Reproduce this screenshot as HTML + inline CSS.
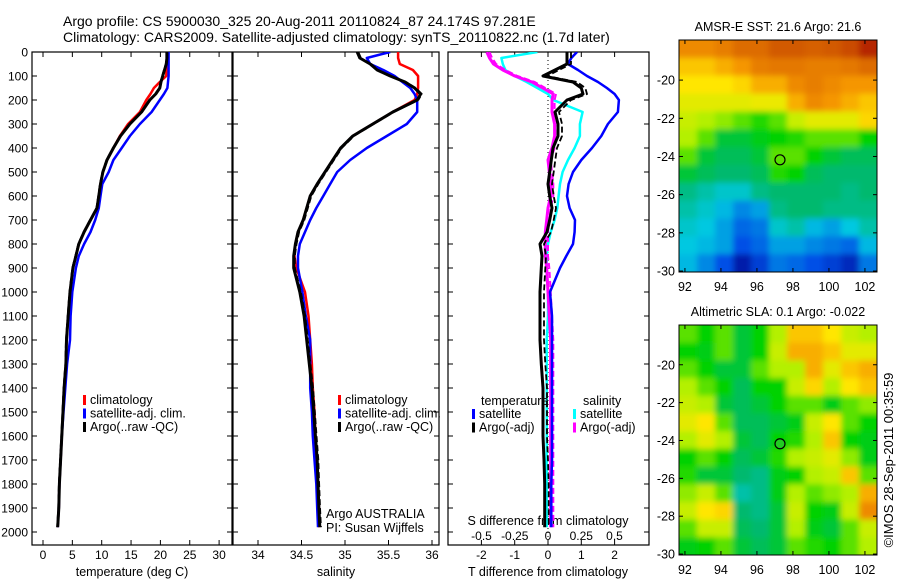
<!DOCTYPE html>
<html><head><meta charset="utf-8"><style>
html,body{margin:0;padding:0;background:#fff;}
svg{display:block;font-family:"Liberation Sans",sans-serif;}
</style></head><body>
<svg id="fig" width="900" height="580" viewBox="0 0 900 580" xmlns="http://www.w3.org/2000/svg">
<defs>
<clipPath id="cp1"><rect x="32" y="52" width="200" height="493"/></clipPath>
<clipPath id="cp2"><rect x="233" y="52" width="206" height="493"/></clipPath>
<clipPath id="cp3"><rect x="448" y="52" width="201" height="493"/></clipPath>
<clipPath id="cm1"><rect x="679" y="40" width="198" height="232"/></clipPath>
<clipPath id="cm2"><rect x="679" y="325" width="198" height="230"/></clipPath>
<filter id="blr" x="-5%" y="-5%" width="110%" height="110%"><feGaussianBlur stdDeviation="3"/></filter>
</defs>
<text x="63" y="26" font-size="14">Argo profile: CS 5900030_325 20-Aug-2011 20110824_87 24.174S 97.281E</text>
<text x="63" y="42" font-size="14">Climatology: CARS2009. Satellite-adjusted climatology: synTS_20110822.nc (1.7d later)</text>
<g id="g1"></g>
<g id="g2"></g>
<g id="g3"></g>
<g id="gm1"></g>
<g id="gm2"></g>
<text transform="translate(893,460) rotate(-90)" text-anchor="middle" font-size="13">©IMOS 28-Sep-2011 00:35:59</text>
</svg>
<script>
const depths = [0,25,50,75,100,125,150,175,200,250,300,350,400,450,500,550,600,650,700,750,800,850,900,1000,1100,1200,1300,1400,1500,1600,1700,1800,1900,1980];
const tClim = [21.1,21.1,21.1,21.0,21.0,19.9,18.9,18.3,17.6,16.5,14.5,13.1,12.0,10.9,10.2,9.8,9.5,9.2,8.1,7.0,6.1,5.6,5.1,4.6,4.3,4.0,3.9,3.6,3.4,3.2,3.0,2.8,2.7,2.5];
const tSat = [21.4,21.4,21.4,21.4,21.4,21.3,21.2,20.6,19.9,18.5,16.5,14.8,13.4,12.0,11.2,10.1,9.8,9.5,8.9,8.1,7.0,6.1,5.6,5.0,4.7,4.6,4.1,3.8,3.5,3.2,3.0,2.8,2.7,2.5];
const tArgo = [21.1,21.1,21.0,20.7,20.4,20.1,19.9,19.2,18.2,16.8,14.8,13.2,12.0,10.9,10.2,9.8,9.5,9.2,8.1,7.0,6.1,5.6,5.1,4.6,4.3,4.0,3.9,3.6,3.4,3.2,3.0,2.8,2.7,2.5];
const sClim = [35.61,35.61,35.63,35.78,35.84,35.84,35.84,35.83,35.80,35.55,35.32,35.09,34.95,34.86,34.77,34.68,34.60,34.56,34.52,34.46,34.43,34.42,34.44,34.54,34.58,34.60,34.62,34.63,34.65,34.66,34.67,34.69,34.70,34.70];
const sSat = [35.52,35.25,35.29,35.44,35.57,35.66,35.75,35.80,35.83,35.83,35.71,35.48,35.25,35.06,34.91,34.83,34.75,34.67,34.60,34.54,34.48,34.46,34.46,34.51,34.55,34.60,34.60,34.60,34.62,34.63,34.65,34.67,34.68,34.69];
const sArgo = [35.14,35.17,35.29,35.37,35.52,35.69,35.80,35.87,35.83,35.55,35.32,35.09,34.95,34.86,34.77,34.68,34.60,34.56,34.52,34.46,34.43,34.41,34.41,34.48,34.53,34.56,34.59,34.62,34.64,34.66,34.68,34.69,34.70,34.71];
const dtSat = [0.87,0.7,0.6,0.9,1.17,1.5,1.77,2.0,2.13,2.1,1.8,1.6,1.32,1.0,0.75,0.62,0.57,0.65,0.81,0.8,0.75,0.55,0.36,0.06,0.12,0.12,0.12,0.12,0.12,0.12,0.12,0.1,0.1,0.1];
const dtArgo = [0.57,0.57,0.57,0.21,-0.15,0.75,1.0,1.05,0.57,0.21,0.3,0.3,0.15,0.1,0.05,0.0,0.05,0.12,0.05,-0.03,-0.24,-0.18,-0.2,-0.24,-0.24,-0.24,-0.2,-0.15,-0.15,-0.15,-0.12,-0.1,-0.1,-0.1];
const dsSat = [-0.08,-0.35,-0.34,-0.32,-0.25,-0.16,-0.08,0.0,0.04,0.26,0.24,0.24,0.2,0.15,0.11,0.09,0.08,0.07,0.05,0.02,0.0,-0.01,-0.01,0.0,0.0,-0.01,-0.01,-0.01,-0.01,-0.01,-0.01,-0.01,-0.01,-0.01];
const dsArgo = [-0.46,-0.44,-0.41,-0.34,-0.25,-0.12,-0.04,0.04,0.03,0.03,0.05,0.05,0.03,0.0,0.01,0.02,0.02,0.0,-0.01,-0.02,-0.02,-0.02,-0.01,0.0,0.01,0.02,0.02,0.02,0.02,0.02,0.02,0.02,0.02,0.02];
const depthTicks = [0,100,200,300,400,500,600,700,800,900,1000,1100,1200,1300,1400,1500,1600,1700,1800,1900,2000];
const tTicks = [0,5,10,15,20,25,30];
const sTicks = [34,34.5,35,35.5,36];
const dtTicks = [-2,-1,0,1,2];
const dsTicks = [-0.5,-0.25,0,0.25,0.5];
const lonTicks = [92,94,96,98,100,102];
const latTicks = [-20,-22,-24,-26,-28,-30];
const sstGrid = [
[0.80,0.80,0.82,0.85,0.85,0.88,0.88,0.87,0.88,0.90,0.95],
[0.72,0.72,0.75,0.78,0.82,0.83,0.83,0.82,0.82,0.83,0.85],
[0.68,0.68,0.68,0.70,0.75,0.75,0.80,0.82,0.80,0.78,0.78],
[0.65,0.65,0.65,0.65,0.66,0.66,0.75,0.80,0.78,0.75,0.72],
[0.62,0.60,0.58,0.55,0.52,0.55,0.62,0.65,0.65,0.65,0.70],
[0.60,0.55,0.45,0.45,0.48,0.50,0.52,0.55,0.55,0.55,0.50],
[0.55,0.45,0.42,0.42,0.45,0.55,0.55,0.50,0.45,0.42,0.42],
[0.45,0.42,0.40,0.40,0.42,0.52,0.50,0.42,0.40,0.40,0.40],
[0.38,0.35,0.32,0.32,0.38,0.40,0.40,0.40,0.40,0.38,0.40],
[0.35,0.32,0.28,0.22,0.25,0.38,0.40,0.40,0.38,0.38,0.38],
[0.32,0.30,0.25,0.18,0.20,0.32,0.35,0.28,0.25,0.30,0.35],
[0.30,0.28,0.25,0.15,0.18,0.25,0.25,0.22,0.20,0.18,0.28],
[0.28,0.22,0.15,0.05,0.12,0.20,0.18,0.15,0.12,0.08,0.20]];
const slaGrid = [
[0.55,0.50,0.55,0.45,0.50,0.60,0.72,0.72,0.68,0.62,0.60],
[0.50,0.48,0.55,0.45,0.50,0.62,0.75,0.75,0.72,0.65,0.65],
[0.55,0.50,0.45,0.45,0.55,0.60,0.60,0.75,0.65,0.72,0.75],
[0.60,0.55,0.50,0.42,0.50,0.50,0.62,0.70,0.60,0.68,0.72],
[0.62,0.60,0.45,0.42,0.45,0.50,0.55,0.55,0.48,0.55,0.58],
[0.65,0.68,0.55,0.42,0.42,0.45,0.48,0.62,0.68,0.55,0.50],
[0.60,0.65,0.60,0.45,0.42,0.50,0.52,0.60,0.72,0.50,0.48],
[0.50,0.55,0.50,0.42,0.45,0.52,0.60,0.62,0.65,0.58,0.48],
[0.52,0.45,0.45,0.40,0.38,0.48,0.50,0.60,0.62,0.72,0.55],
[0.58,0.62,0.55,0.35,0.38,0.48,0.60,0.55,0.58,0.60,0.75],
[0.62,0.68,0.70,0.40,0.38,0.45,0.62,0.50,0.48,0.62,0.80],
[0.55,0.62,0.62,0.42,0.40,0.45,0.60,0.48,0.45,0.55,0.62],
[0.48,0.50,0.55,0.45,0.42,0.45,0.55,0.52,0.50,0.55,0.60]];
const argoLon = 97.281, argoLat = -24.174;

const NS="http://www.w3.org/2000/svg";
function mk(parent,tag,attrs,txt){const e=document.createElementNS(NS,tag);for(const k in attrs)e.setAttribute(k,attrs[k]);if(txt!==undefined)e.textContent=txt;parent.appendChild(e);return e;}
const yD = d => 52 + d*0.24;
const xT = t => 43 + t*5.87;
const xS = s => 258 + (s-34)*87;
const xDT = v => 548 + v*33.3;
const xDS = v => 548 + v*133;

function frame(g,x0,x1,name){
  const r=mk(g,'rect',{x:x0,y:52,width:x1-x0,height:493,fill:'none',stroke:'#000','stroke-width':1.2});
  
  
  depthTicks.forEach(d=>{mk(g,'line',{x1:x0,x2:x0+5,y1:yD(d),y2:yD(d),stroke:'#000'});mk(g,'line',{x1:x1-5,x2:x1,y1:yD(d),y2:yD(d),stroke:'#000'});});
}
function xticks(g,vals,fx,labelY,labels){
  vals.forEach(v=>{const x=fx(v);mk(g,'line',{x1:x,x2:x,y1:52,y2:57,stroke:'#000'});mk(g,'line',{x1:x,x2:x,y1:540,y2:545,stroke:'#000'});
    if(labels){const t=mk(g,'text',{x:x,y:labelY,'text-anchor':'middle','font-size':12},String(v));
    
    }});
}
function line(g,xs,fx,color,w,clip,name,dash){
  const pts=xs.map((v,i)=>fx(v).toFixed(1)+','+yD(depths[i]).toFixed(1)).join(' ');
  const a={points:pts,fill:'none',stroke:color,'stroke-width':w,'clip-path':'url(#'+clip+')','stroke-linejoin':'round'};
  if(dash)a['stroke-dasharray']=dash;
  const p=mk(g,'polyline',a);
  
  
  return p;
}
function legend(g,x,y0,items){
  items.forEach((it,i)=>{const y=y0+i*13.5;
    const b=mk(g,'rect',{x:x,y:y-9,width:3,height:10,fill:it[1]});
    
    
    const t=mk(g,'text',{x:x+7,y:y,'font-size':12.5},it[0]);
    
    });
}

// Panel 1
const g1=document.getElementById('g1');
frame(g1,32,232,'temperature-axes');
depthTicks.forEach(d=>{const t=mk(g1,'text',{x:28,y:yD(d)+4.5,'text-anchor':'end','font-size':12},String(d));
  
  });
xticks(g1,tTicks,xT,559,true);
let tt=mk(g1,'text',{x:132,y:576,'text-anchor':'middle','font-size':12.5},'temperature (deg C)');


line(g1,tClim,xT,'#f00',2.5,'cp1','temp-climatology-line');
line(g1,tSat,xT,'#00f',2.5,'cp1','temp-satellite-line');
line(g1,tArgo,xT,'#000',3,'cp1','temp-argo-line');
line(g1,tArgo.map(v=>v-0.12),xT,'#000',1.5,'cp1','temp-argo-raw-line','6 3');
legend(g1,83,404,[['climatology','#f00'],['satellite-adj. clim.','#00f'],['Argo(..raw -QC)','#000']]);

// Panel 2
const g2=document.getElementById('g2');
frame(g2,233,439,'salinity-axes');
xticks(g2,sTicks,xS,559,true);
tt=mk(g2,'text',{x:336,y:576,'text-anchor':'middle','font-size':12.5},'salinity');


line(g2,sClim,xS,'#f00',2.5,'cp2','sal-climatology-line');
line(g2,sSat,xS,'#00f',2.5,'cp2','sal-satellite-line');
line(g2,sArgo,xS,'#000',3,'cp2','sal-argo-line');
line(g2,sArgo.map(v=>v+0.015),xS,'#000',1.5,'cp2','sal-argo-raw-line','6 3');
legend(g2,338,404,[['climatology','#f00'],['satellite-adj. clim.','#00f'],['Argo(..raw -QC)','#000']]);
tt=mk(g2,'text',{x:326,y:518,'font-size':12.5},'Argo AUSTRALIA');


tt=mk(g2,'text',{x:326,y:532,'font-size':12.5},'PI: Susan Wijffels');



// Panel 3
const g3=document.getElementById('g3');
frame(g3,448,649,'difference-axes');
xticks(g3,dtTicks,xDT,559,true);
mk(g3,'line',{x1:548,x2:548,y1:52,y2:545,stroke:'#000','stroke-width':1,'stroke-dasharray':'1 3'});
dsTicks.forEach(v=>{const t=mk(g3,'text',{x:xDS(v),y:540,'text-anchor':'middle','font-size':12},String(v));
  
  });
tt=mk(g3,'text',{x:548,y:525,'text-anchor':'middle','font-size':12.5},'S difference from climatology');


tt=mk(g3,'text',{x:548,y:576,'text-anchor':'middle','font-size':12.5},'T difference from climatology');


line(g3,dsSat,xDS,'#0ff',2.5,'cp3','sdiff-satellite-line');
line(g3,dsArgo,xDS,'#f0f',3,'cp3','sdiff-argo-line');
line(g3,dsArgo.map(v=>v+0.02),xDS,'#f0f',2,'cp3','sdiff-argo-raw-line','6 3');
line(g3,dtSat,xDT,'#00f',2.5,'cp3','tdiff-satellite-line');
line(g3,dtArgo,xDT,'#000',3,'cp3','tdiff-argo-line');
line(g3,dtArgo.map(v=>v+0.12),xDT,'#000',1.8,'cp3','tdiff-argo-raw-line','6 3');
tt=mk(g3,'text',{x:481,y:405,'font-size':12.5},'temperature');


tt=mk(g3,'text',{x:583,y:405,'font-size':12.5},'salinity');


legend(g3,472,418,[['satellite','#00f'],['Argo(-adj)','#000']]);
legend(g3,573,418,[['satellite','#0ff'],['Argo(-adj)','#f0f']]);

// Maps
const cstops=[[0,[0,0,140]],[0.15,[0,80,230]],[0.3,[0,200,225]],[0.4,[0,185,110]],[0.5,[0,210,0]],[0.6,[180,240,0]],[0.68,[255,230,0]],[0.78,[245,150,0]],[0.88,[210,90,0]],[1,[160,0,0]]];
function cmap(v){for(let i=1;i<cstops.length;i++){if(v<=cstops[i][0]){const a=cstops[i-1],b=cstops[i],f=(v-a[0])/(b[0]-a[0]);return 'rgb('+a[1].map((c,k)=>Math.round(c+(b[1][k]-c)*f)).join(',')+')';}}return 'rgb(160,0,0)';}
function drawMap(g,grid,top,h,clip,title,name){
  const left=679,w=198,lon0=91.67,lon1=102.67,lat0=-17.9,lat1=-30.05;
  const fxl=lon=>left+(lon-lon0)/(lon1-lon0)*w, fyl=lat=>top+(lat-lat0)/(lat1-lat0)*h;
  const cg=mk(g,'g',{'clip-path':'url(#'+clip+')'});
  const bg=mk(cg,'g',{filter:'url(#blr)'});
  const rows=grid.length,cols=grid[0].length,cw=w/cols,ch=h/rows;
  grid.forEach((row,r)=>row.forEach((v,c)=>{const x=left+c*cw,y=top+r*ch;
    const a={x:x-(c==0?8:0),y:y-(r==0?8:0),width:cw+0.6+(c==0||c==cols-1?8:0),height:ch+0.6+(r==0||r==rows-1?8:0),fill:cmap(v)};
    const cell=mk(bg,'rect',a);
    
    }));
  const fr=mk(g,'rect',{x:left,y:top,width:w,height:h,fill:'none',stroke:'#000','stroke-width':1});
  
  
  lonTicks.forEach(lon=>{const x=fxl(lon);mk(g,'line',{x1:x,x2:x,y1:top,y2:top+4,stroke:'#000'});mk(g,'line',{x1:x,x2:x,y1:top+h-4,y2:top+h,stroke:'#000'});
    const t=mk(g,'text',{x:x,y:top+h+19,'text-anchor':'middle','font-size':12.5},String(lon));
    
    });
  latTicks.forEach(lat=>{const y=fyl(lat);mk(g,'line',{x1:left,x2:left+4,y1:y,y2:y,stroke:'#000'});mk(g,'line',{x1:left+w-4,x2:left+w,y1:y,y2:y,stroke:'#000'});
    const t=mk(g,'text',{x:675,y:y+4.5,'text-anchor':'end','font-size':12.5},String(lat));
    
    });
  const c=mk(g,'circle',{cx:fxl(argoLon),cy:fyl(argoLat),r:5,fill:name==='sla-map'?'#2c2':'none',stroke:'#000','stroke-width':1.2});
  
  
  const t=mk(g,'text',{x:left+w/2,y:top-9,'text-anchor':'middle','font-size':12.5},title);
  
  
}
drawMap(document.getElementById('gm1'),sstGrid,40,232,'cm1','AMSR-E SST: 21.6 Argo: 21.6','sst-map');
drawMap(document.getElementById('gm2'),slaGrid,325,230,'cm2','Altimetric SLA: 0.1 Argo: -0.022','sla-map');
</script>
</body></html>
